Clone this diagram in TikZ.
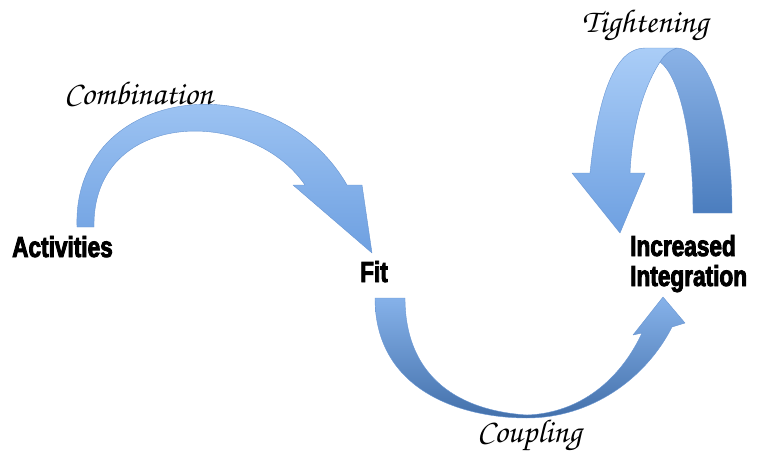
\documentclass[tikz,border=0pt]{standalone}
\usepackage[T1]{fontenc}
\usepackage{fontspec}
\usepackage{xcolor}
\usepackage{tikz}
\usetikzlibrary{positioning, calc}
\newfontfamily\headfont{Liberation Sans}[FakeStretch=0.78, BoldFeatures={FakeBold=3}]
\newcommand\chanceryfont{\fontencoding{T1}\fontfamily{pzc}\fontseries{m}\fontshape{it}\selectfont}
\definecolor{arrowlight}{RGB}{170,205,247}
\definecolor{arrowmid}{RGB}{110,160,225}
\definecolor{arrowdark}{RGB}{75,125,190}
\definecolor{arrowedge}{RGB}{105,150,210}

\begin{document}
\begin{tikzpicture}[
  x=1pt, y=-1pt,
  stage/.style={font=\headfont\bfseries\fontsize{29}{30}\selectfont, align=left, inner sep=0pt},
  move/.style={font=\chanceryfont\fontsize{33}{34}\selectfont, inner sep=0pt},
  ribbon/.style={draw=arrowedge, line width=0.4pt, line join=round},
]
\useasboundingbox (0,0) rectangle (758,455);

% curved block arrows
\path[ribbon, top color=arrowlight, bottom color=arrowmid]
  (77,227) .. controls (72,85) and (275,60) .. (347,185)
  -- (362,185) -- (372,253) -- (293,185) -- (305,185)
  .. controls (250,105) and (92,110) .. (94,227) -- cycle;
\path[ribbon, top color=arrowmid!60!arrowlight, bottom color=arrowdark!90!black]
  (375,298) .. controls (375,390) and (460,418) .. (527,418)
  .. controls (590,418) and (645,380) .. (672,327)
  -- (685,323) -- (663,297) -- (633,335) -- (642,333)
  .. controls (620,380) and (580,413) .. (527,415)
  .. controls (450,410) and (405,370) .. (405,298) -- cycle;
\path[ribbon, top color=arrowmid!80, bottom color=arrowdark]
  (677,48) .. controls (710,50) and (732,120) .. (732,213)
  -- (693,213) .. controls (693,130) and (678,75) .. (660,62)
  .. controls (664,55) and (670,50) .. (677,48) -- cycle;
\path[ribbon, top color=arrowlight, bottom color=arrowmid]
  (630,173) -- (645,173) -- (620,233) -- (572,173) -- (590,173)
  .. controls (598,95) and (615,48) .. (645,48) -- (677,48)
  .. controls (670,50) and (664,55) .. (660,62)
  .. controls (642,90) and (632,130) .. (630,173) -- cycle;

% labels
\node[stage, anchor=base west] (act) at (12,257) {Activities};
\node[stage, anchor=base west] (fit) at (360,282) {Fit};
\node[stage, anchor=base west] (inc) at (630,286) {Increased\\Integration};
\node[move, anchor=base west] (comb) at (64,104) {Combination};
\node[move, anchor=base west] (coup) at (477,442) {Coupling};
\node[move, anchor=base west] (tight) at (582,32) {Tightening};
\end{tikzpicture}
\end{document}
